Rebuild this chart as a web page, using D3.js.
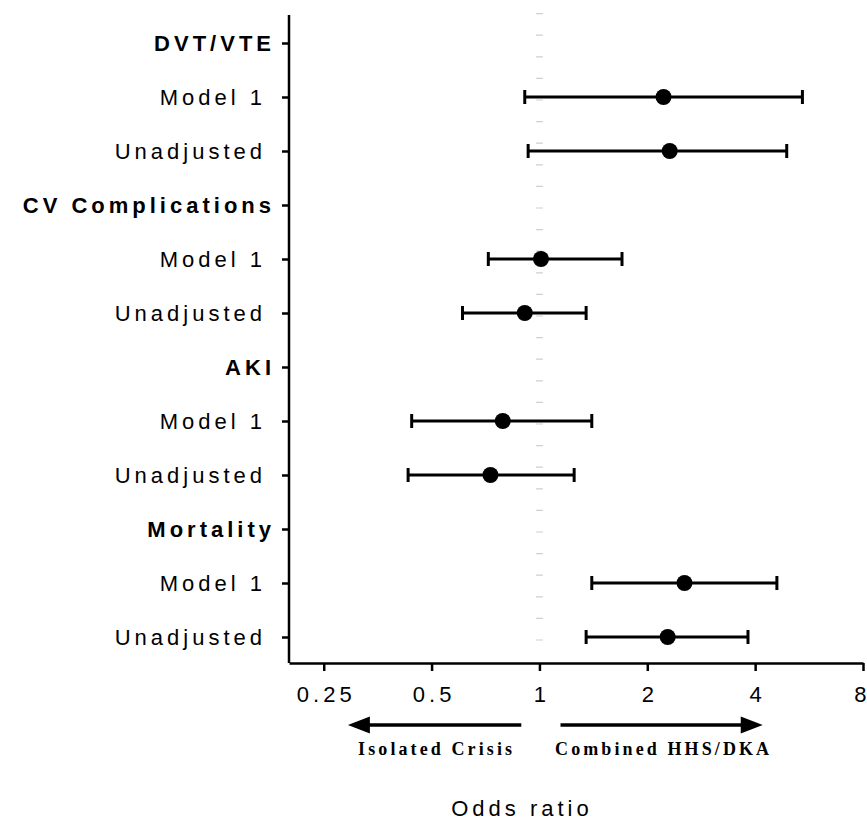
<!DOCTYPE html>
<html>
<head>
<meta charset="utf-8">
<script src="https://cdn.jsdelivr.net/npm/d3@7"></script>
<style>
  body { margin: 0; background: #fff; }
  svg { display: block; }
</style>
</head>
<body>
<div id="chart"></div>
<script>

// outcomes, each shown with two models (Model 1 first, then Unadjusted)
var outcomes = ["DVT/VTE", "CV Complications", "AKI", "Mortality"];
var models = ["Model 1", "Unadjusted"];

// odds ratio and 95% CI, ordered outcome by outcome, Model 1 then Unadjusted
var oddsRatio = [2.22, 2.31, 1.01, 0.91, 0.79, 0.73, 2.54, 2.28];
var ciLow     = [0.91, 0.93, 0.72, 0.61, 0.44, 0.43, 1.40, 1.35];
var ciHigh    = [5.42, 4.90, 1.70, 1.35, 1.40, 1.25, 4.60, 3.82];

var xTicks = [0.25, 0.5, 1, 2, 4, 8];
var directionLabels = ["Isolated Crisis", "Combined HHS/DKA"];
var xTitle = "Odds ratio";

var width = 867, height = 822;

// rows: outcome header then its model rows
var rows = [];
outcomes.forEach(function (o) {
    rows.push({ key: o, label: o, header: true });
    models.forEach(function (m) {
        rows.push({ key: o + "|" + m, label: m, header: false });
    });
});

var points = [];
outcomes.forEach(function (o, i) {
    models.forEach(function (m, j) {
        var k = i * models.length + j;
        points.push({ key: o + "|" + m, or: oddsRatio[k], lo: ciLow[k], hi: ciHigh[k] });
    });
});

var svg = d3.select("#chart")
    .append("svg")
    .attr("width", width)
    .attr("height", height);

var x = d3.scaleLog()
    .base(2)
    .domain([0.2, 8])
    .range([289, 863]);

var y = d3.scalePoint()
    .domain(rows.map(d => d.key))
    .range([16, 664])
    .padding(0.5);

var axisY = 663;

// light reference line at OR = 1 (drawn as short horizontal dashes)
svg.append("line")
    .attr("x1", x(1)).attr("x2", x(1))
    .attr("y1", 13).attr("y2", axisY - 4)
    .attr("stroke", "#cfcfcf")
    .attr("stroke-width", 7)
    .attr("stroke-dasharray", "1.2 20.4");

// x axis
var gx = svg.append("g")
    .attr("transform", "translate(0," + axisY + ")")
    .call(d3.axisBottom(x)
        .tickValues(xTicks)
        .tickFormat(d => String(d))
        .tickSize(8)
        .tickSizeOuter(0)
        .tickPadding(15));

// y axis
var labelOf = {};
rows.forEach(r => labelOf[r.key] = r);

var gy = svg.append("g")
    .attr("transform", "translate(289,0)")
    .call(d3.axisLeft(y)
        .tickFormat(k => labelOf[k].label)
        .tickSize(7)
        .tickSizeOuter(0)
        .tickPadding(7));

[gx, gy].forEach(function (g) {
    g.select(".domain").attr("stroke", "#000").attr("stroke-width", 2.5);
    g.selectAll(".tick line").attr("stroke", "#000").attr("stroke-width", 2.5);
    g.selectAll(".tick text")
        .attr("fill", "#000")
        .attr("font-family", "'Liberation Sans', Arial, sans-serif")
        .attr("font-size", 22)
        .attr("letter-spacing", 4);
});

gx.selectAll(".tick text").attr("dx", 2);

// last tick label sits right at the edge of the page
var lastTick = xTicks[xTicks.length - 1];
gx.selectAll(".tick text")
    .filter(d => d === lastTick)
    .attr("letter-spacing", 0)
    .attr("text-anchor", "end")
    .attr("dx", 3);

// the y axis line runs a bit above the first row
gy.select(".domain").attr("d", "M0," + (y.range()[0] - 1) + "V" + axisY);

gy.selectAll(".tick text")
    .attr("font-weight", k => labelOf[k].header ? "bold" : "normal")
    .attr("dx", k => labelOf[k].header ? 0 : -9);

// error bars
var bars = svg.append("g")
    .selectAll("g")
    .data(points)
    .enter()
    .append("g");

bars.append("line")
    .attr("x1", d => x(d.lo))
    .attr("x2", d => x(d.hi))
    .attr("y1", d => y(d.key))
    .attr("y2", d => y(d.key))
    .attr("stroke", "#000")
    .attr("stroke-width", 3);

bars.selectAll(".cap")
    .data(d => [{ v: d.lo, key: d.key }, { v: d.hi, key: d.key }])
    .enter()
    .append("line")
    .attr("class", "cap")
    .attr("x1", d => x(d.v))
    .attr("x2", d => x(d.v))
    .attr("y1", d => y(d.key) - 7)
    .attr("y2", d => y(d.key) + 7)
    .attr("stroke", "#000")
    .attr("stroke-width", 3);

bars.append("circle")
    .attr("cx", d => x(d.or))
    .attr("cy", d => y(d.key))
    .attr("r", 8)
    .attr("fill", "#000");

// direction arrows under the axis
var arrowY = 725;
var arrows = [
    { from: 0.89, to: 0.292, label: directionLabels[0] },
    { from: 1.145, to: 4.2, label: directionLabels[1] }
];

var headLen = 22, headHalf = 8.5;

arrows.forEach(function (a) {
    var x0 = x(a.from), x1 = x(a.to);
    var dir = x1 > x0 ? 1 : -1;
    svg.append("line")
        .attr("x1", x0).attr("x2", x1 - dir * headLen + dir)
        .attr("y1", arrowY).attr("y2", arrowY)
        .attr("stroke", "#000")
        .attr("stroke-width", 3.6);
    svg.append("path")
        .attr("d", "M" + x1 + "," + arrowY +
            "L" + (x1 - dir * headLen) + "," + (arrowY - headHalf) +
            "L" + (x1 - dir * headLen) + "," + (arrowY + headHalf) + "Z")
        .attr("fill", "#000");
    svg.append("text")
        .attr("x", (x0 + x1) / 2 + 2)
        .attr("y", 755)
        .attr("text-anchor", "middle")
        .attr("font-family", "'Liberation Serif', 'Times New Roman', serif")
        .attr("font-weight", "bold")
        .attr("font-size", 18)
        .attr("letter-spacing", 3.1)
        .text(a.label);
});

svg.append("text")
    .attr("x", 522)
    .attr("y", 816)
    .attr("text-anchor", "middle")
    .attr("font-family", "'Liberation Sans', Arial, sans-serif")
    .attr("font-size", 22)
    .attr("letter-spacing", 4)
    .text(xTitle);

</script>
</body>
</html>
